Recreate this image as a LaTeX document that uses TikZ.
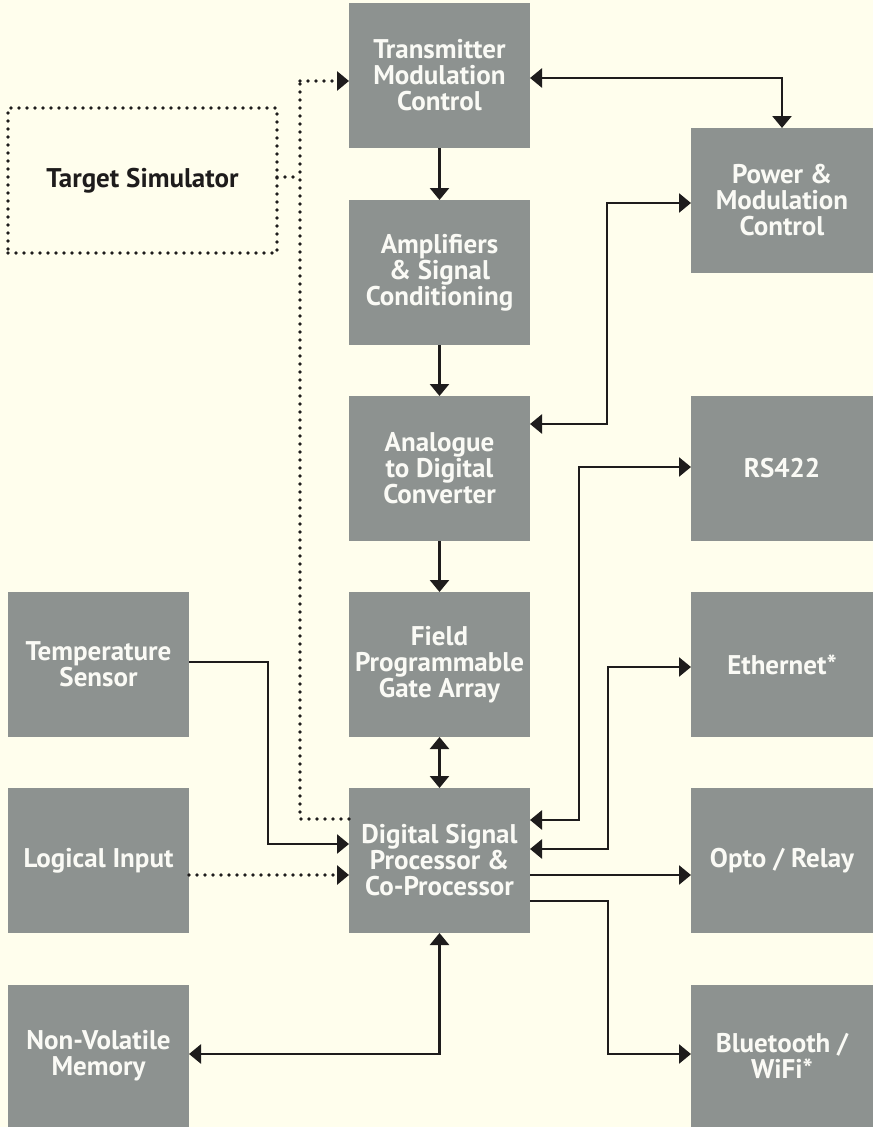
\documentclass[tikz,border=0pt]{standalone}
\usepackage{fontspec}
\setmainfont{PT Sans}
\usetikzlibrary{arrows.meta}
\definecolor{paper}{HTML}{FFFEED}
\definecolor{boxgray}{HTML}{8D9290}
\definecolor{ink}{HTML}{1E1C1C}
\definecolor{label}{HTML}{FAFAF5}
\begin{document}
\begin{tikzpicture}[x=1pt,y=-1pt,
  block/.style={fill=boxgray, draw=none, inner sep=0pt, outer sep=0pt,
    minimum width=181pt, minimum height=145pt, anchor=north west,
    text=label, align=center, font=\bfseries\fontsize{27}{26}\selectfont},
  wire/.style={draw=ink, line width=2.6pt},
  arr/.style={wire, -{Triangle[length=12pt,width=19pt]}},
  darr/.style={wire, {Triangle[length=12pt,width=19pt]}-{Triangle[length=12pt,width=19pt]}},
  dotline/.style={draw=ink, line width=3.6pt, dash pattern=on 0pt off 8pt, line cap=round},
]
% page
\fill[paper] (0,0) rectangle (873,1127);
\useasboundingbox (0,0) rectangle (873,1127);

% centre column
\node[block] (trans) at (349,3)   {Transmitter\\Modulation\\Control};
\node[block] (amp)   at (349,200) {Amplifiers\\\& Signal\\Conditioning};
\node[block] (adc)   at (349,396) {Analogue\\to Digital\\Converter};
\node[block] (fpga)  at (349,592) {Field\\Programmable\\Gate Array};
\node[block] (dsp)   at (349,788) {Digital Signal\\Processor \&\\Co-Processor};

% right column
\node[block, minimum width=182pt] (power) at (691,128) {Power \&\\Modulation\\Control};
\node[block, minimum width=182pt] (rs)    at (691,396) {RS422};
\node[block, minimum width=182pt] (eth)   at (691,592) {Ethernet*};
\node[block, minimum width=182pt] (opto)  at (691,788) {Opto / Relay};
\node[block, minimum width=182pt, minimum height=142pt] (bt) at (691,985) {Bluetooth /\\WiFi*};

% left column
\node[block] (temp)  at (8,592) {Temperature\\Sensor};
\node[block] (logic) at (8,788) {Logical Input};
\node[block, minimum height=142pt] (nvm) at (8,985) {Non-Volatile\\Memory};

% simulator (dotted outline)
\node[dotline, inner sep=0pt, outer sep=0pt, minimum width=269pt, minimum height=145pt,
  anchor=north west, text=ink, font=\bfseries\fontsize{27}{26}\selectfont] (tsim) at (8,108) {Target Simulator};

% main chain
\draw[arr] (trans) -- (amp);
\draw[arr] (amp) -- (adc);
\draw[arr] (adc) -- (fpga);
\draw[darr] (fpga) -- (dsp);

% power paths
\draw[darr] ([yshift=-2.5]trans.east) -| (power.north);
\draw[darr] ([yshift=-2.5]power.west) -- ++(-84,0) |- ([yshift=44.5]adc.east);

% DSP outputs
\draw[darr] ([yshift=40.5]dsp.east) -- ++(49,0) |- ([yshift=1.5]rs.west);
\draw[darr] ([yshift=11.5]dsp.east) -- ++(78,0) |- ([yshift=-2.5]eth.west);
\draw[arr] ([yshift=-14.5]dsp.east) -- ([yshift=-14.5]opto.west);
\draw[arr] ([yshift=-40.5]dsp.east) -- ++(78,0) |- ([yshift=2]bt.west);

% DSP inputs
\draw[arr] ([yshift=2.5]temp.east) -- ++(79,0) |- ([yshift=16.5]dsp.west);
\draw[dotline, -{Triangle[length=12pt,width=19pt]}] ([yshift=-14.5]logic.east) -- ([yshift=-14.5]dsp.west);
\draw[darr] ([yshift=2]nvm.east) -| (dsp.south);

% simulator links
\coordinate (jtop) at (300,81);
\draw[dotline] ([yshift=3.5]tsim.east) -- ([yshift=3.5]tsim.east -| jtop);
\draw[dotline] ([yshift=41.5]dsp.west) -| (jtop);
\draw[dotline, -{Triangle[length=12pt,width=19pt]}] (jtop) -- (jtop -| trans.west);
\end{tikzpicture}
\end{document}
